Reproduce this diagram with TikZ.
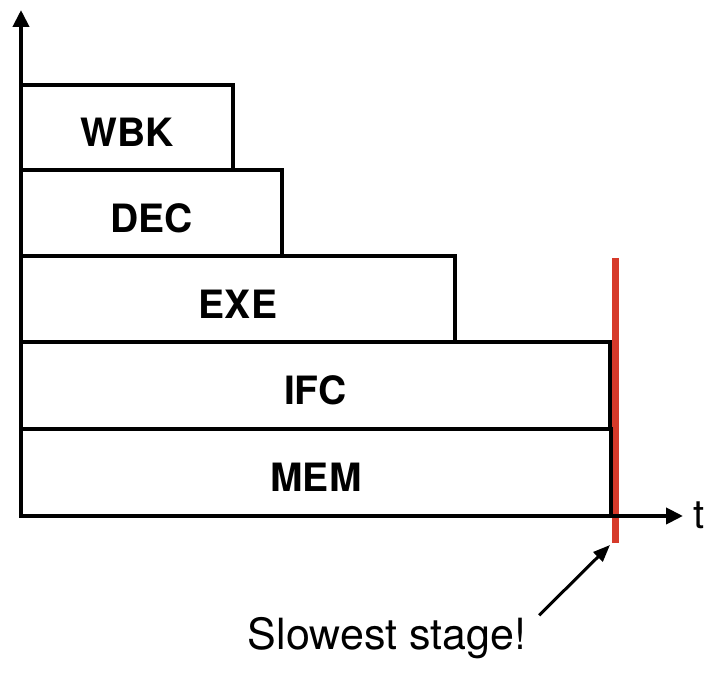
\documentclass[tikz,border=0pt]{standalone}
\usepackage{fontspec}
\setmainfont{TeX Gyre Heros}
\usetikzlibrary{arrows.meta}
\definecolor{slowred}{RGB}{214,58,42}
\begin{document}
\begin{tikzpicture}[x=0.5pt,y=0.5pt,line width=2pt,
  lbl/.style={font=\fontsize{19.5}{22}\selectfont\bfseries, yshift=-2.5pt},
  axis/.style={-{Triangle[length=8.5pt,width=8pt]}}]
\useasboundingbox (-21,-158) rectangle (693,516);

% slowest stage marker
\draw[slowred, line width=3.7pt] (594.5,258) -- (594.5,-27);

% stages
\draw (0,0) rectangle (590,87);
\draw (0,87) rectangle (589,174);
\draw (0,174) rectangle (434,260);
\draw (0,260) rectangle (261,346);
\draw (0,346) rectangle (212,431);

\node[lbl] (mem) at (295,43.5){MEM};
\node[lbl] (ifc) at (294.5,130.5){IFC};
\node[lbl] (exe) at (217,217){EXE};
\node[lbl] (dec) at (130.5,303){DEC};
\node[lbl] (wbk) at (106,388.5){WBK};

% axes
\coordinate (o) at (0,0);
\coordinate (ytip) at (0,506);
\coordinate (xtip) at (662,0);
\draw[axis] (o) -- (ytip);
\draw[axis] (o) -- (xtip);
\node[right, inner sep=0, font=\fontsize{20}{24}\selectfont] (t) at (670,0.5){t};

% note
\coordinate (slow) at (589,-29);
\node[inner sep=0, font=\fontsize{21.5}{26}\selectfont] (note) at (366,-122){Slowest stage!};
\draw[line width=1.5pt, -{Triangle[length=8.5pt,width=6.5pt]}] ([xshift=5.5pt]note.north east) -- (slow);
\end{tikzpicture}
\end{document}
